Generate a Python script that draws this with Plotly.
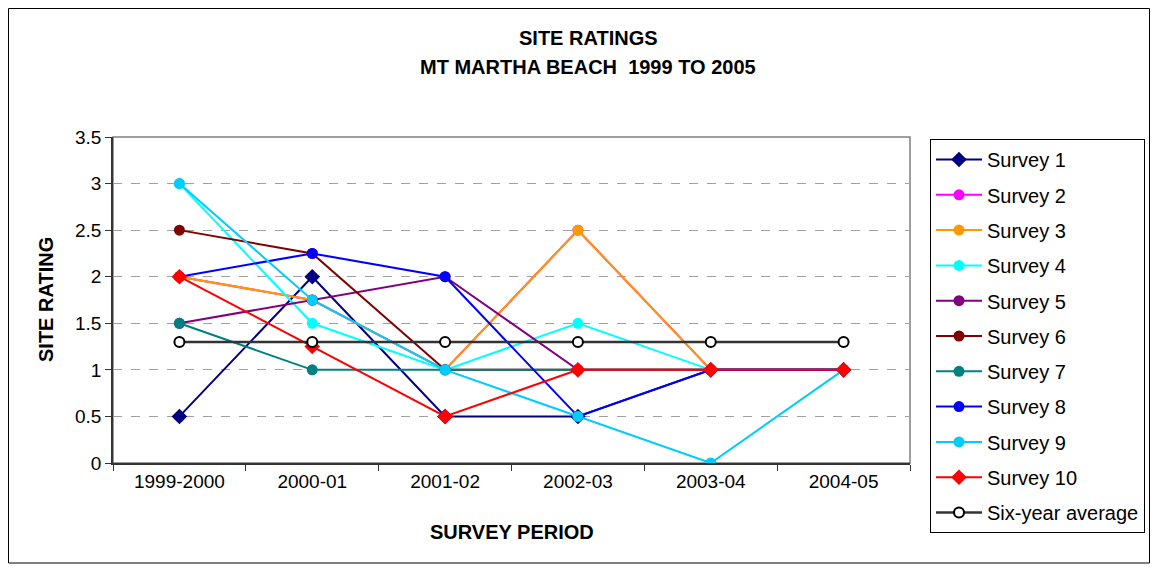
import plotly.graph_objects as go

periods = ["1999-2000", "2000-01", "2001-02", "2002-03", "2003-04", "2004-05"]

survey1 = [0.5, 2.0, 0.5, 0.5, 1.0, 1.0]
survey2 = [2.0, 1.75, 1.0, 2.5, 1.0, 1.0]
survey3 = [2.0, 1.75, 1.0, 2.5, 1.0, 1.0]
survey4 = [3.0, 1.5, 1.0, 1.5, 1.0, 1.0]
survey5 = [1.5, 1.75, 2.0, 1.0, 1.0, 1.0]
survey6 = [2.5, 2.25, 1.0, 1.0, 1.0, 1.0]
survey7 = [1.5, 1.0, 1.0, 1.0, 1.0, 1.0]
survey8 = [2.0, 2.25, 2.0, 0.5, 1.0, 1.0]
survey9 = [3.0, 1.75, 1.0, 0.5, 0.0, 1.0]
survey10 = [2.0, 1.25, 0.5, 1.0, 1.0, 1.0]
six_year_avg = [1.3, 1.3, 1.3, 1.3, 1.3, 1.3]

series = [
    ("Survey 1", survey1, "#000080", "diamond"),
    ("Survey 2", survey2, "#FF00FF", "circle"),
    ("Survey 3", survey3, "#FF9900", "circle"),
    ("Survey 4", survey4, "#00FFFF", "circle"),
    ("Survey 5", survey5, "#800080", "circle"),
    ("Survey 6", survey6, "#800000", "circle"),
    ("Survey 7", survey7, "#008080", "circle"),
    ("Survey 8", survey8, "#0000FF", "circle"),
    ("Survey 9", survey9, "#00CCFF", "circle"),
    ("Survey 10", survey10, "#FF0000", "diamond"),
]

OFF = 8  # page body margin
W, H = 1158 - 2 * OFF, 572 - 2 * OFF
ML, MR, MT, MB = 113 - OFF, 248 - OFF, 137 - OFF, 109 - OFF
PW, PH = W - ML - MR, H - MT - MB


def px_x(p):
    return (p - OFF - ML) / PW


def px_y(p):
    return (H - MB - (p - OFF)) / PH


fig = go.Figure()
for i, (name, vals, col, sym) in enumerate(series):
    fig.add_trace(go.Scatter(
        x=periods, y=vals, name=name, mode="lines+markers",
        line=dict(color=col, width=2),
        marker=dict(symbol=sym, size=12 if sym == "diamond" else 11, color=col),
        legendgroup=f"g{i}",
    ))
fig.add_trace(go.Scatter(
    x=periods, y=six_year_avg, name="Six-year average", mode="lines+markers",
    line=dict(color="#333333", width=2.5),
    marker=dict(symbol="circle", size=10, color="white", line=dict(color="black", width=2)),
    legendgroup="g10",
))

fig.update_layout(
    width=W, height=H,
    margin=dict(l=ML, r=MR, t=MT, b=MB, autoexpand=False),
    paper_bgcolor="white", plot_bgcolor="white",
    font=dict(family="Arial, Liberation Sans, sans-serif", size=19, color="black"),
    showlegend=True,
    legend=dict(
        x=px_x(930), y=px_y(139), xanchor="left", yanchor="top",
        bordercolor="black", borderwidth=1, bgcolor="white",
        font=dict(size=20), tracegroupgap=6.3, maxheight=420,
        itemwidth=46,
    ),
    xaxis=dict(
        type="category", tickson="boundaries", ticks="outside", ticklen=6,
        tickcolor="#333333", showline=True, linecolor="#333333", linewidth=1.5,
        showgrid=False, tickfont=dict(size=19), range=[-0.5, 5.5],
    ),
    yaxis=dict(
        range=[0, 3.5], dtick=0.5, ticks="outside", ticklen=6, tickcolor="#333333",
        showline=True, linecolor="#333333", linewidth=1.5,
        showgrid=True, gridcolor="#A0A0A0", griddash="dash", gridwidth=1,
        tickfont=dict(size=19), zeroline=False, tickformat="~g",
    ),
    shapes=[
        dict(type="rect", xref="paper", yref="paper",
             x0=0, x1=1, y0=0, y1=1, line=dict(color="#808080", width=1.5), layer="below"),
        dict(type="rect", xref="paper", yref="paper",
             x0=px_x(8.5), x1=px_x(1149.5), y0=px_y(563), y1=px_y(8.5),
             line=dict(color="black", width=1)),
    ],
    annotations=[
        dict(text="<b>SITE RATINGS</b>", xref="paper", yref="paper",
             x=px_x(588), y=px_y(38), xanchor="center", yanchor="middle",
             showarrow=False, font=dict(size=20)),
        dict(text="<b>MT MARTHA BEACH  1999 TO 2005</b>", xref="paper", yref="paper",
             x=px_x(588), y=px_y(67), xanchor="center", yanchor="middle",
             showarrow=False, font=dict(size=20)),
        dict(text="<b>SURVEY PERIOD</b>", xref="paper", yref="paper",
             x=px_x(512), y=px_y(532), xanchor="center", yanchor="middle",
             showarrow=False, font=dict(size=20)),
        dict(text="<b>SITE RATING</b>", xref="paper", yref="paper",
             x=px_x(46), y=px_y(300), xanchor="center", yanchor="middle",
             showarrow=False, textangle=-90, font=dict(size=20)),
    ],
)

fig.write_html("out.html")
